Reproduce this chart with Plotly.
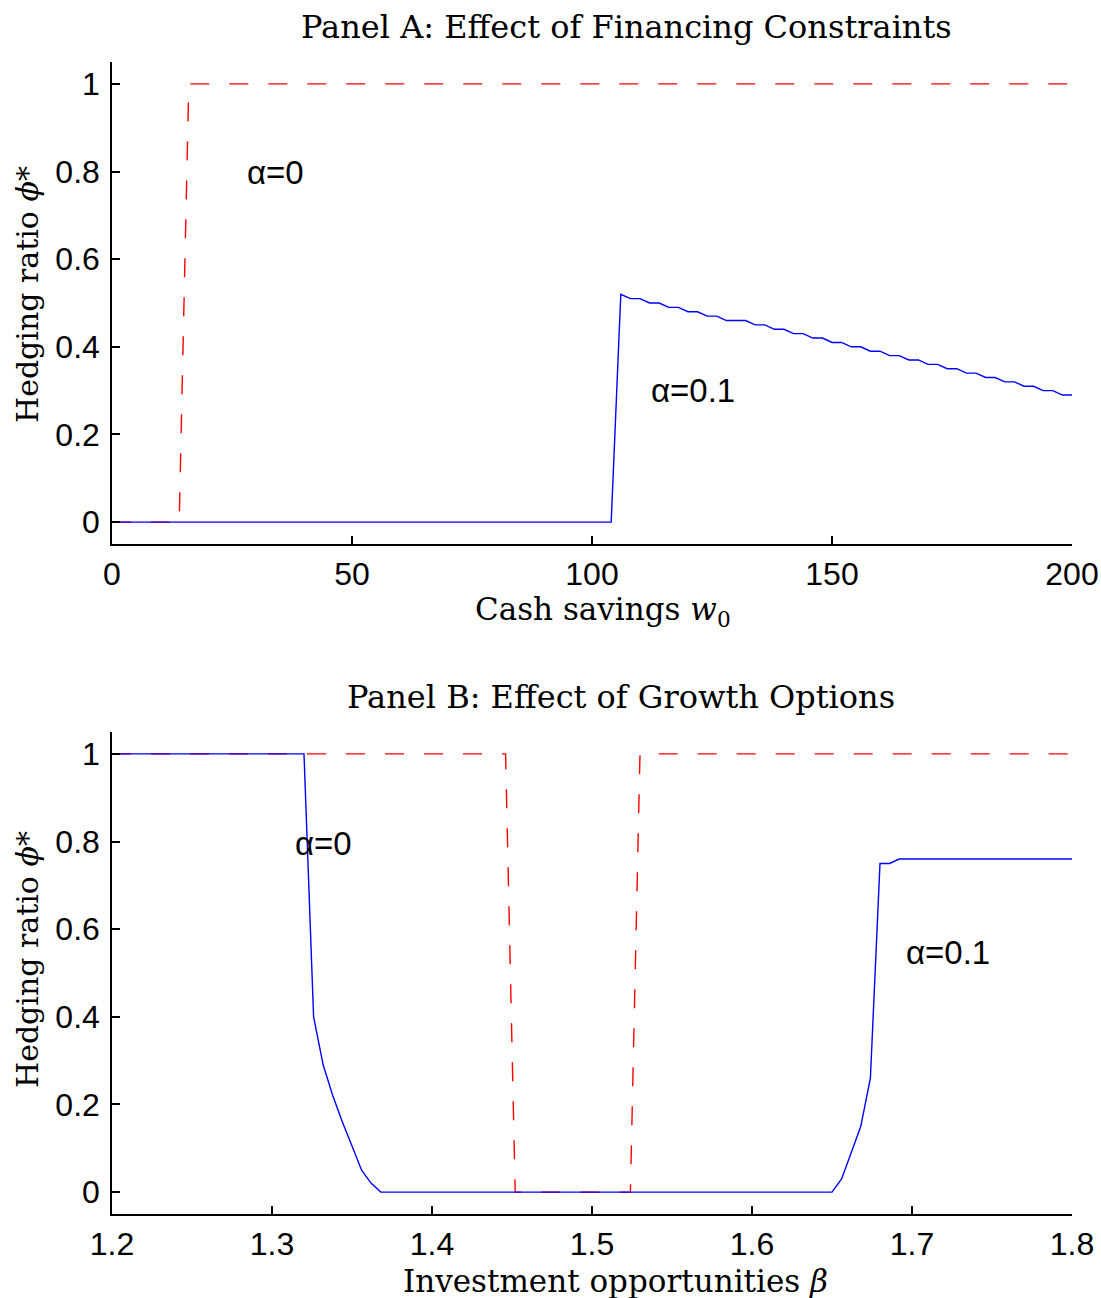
import plotly.graph_objects as go

# ---------------- Data ----------------
# Panel A: Effect of financing constraints (x = cash savings w0)
a_red_x = [0, 14, 16, 200]
a_red_y = [0, 0, 1, 1]

a_blue_x = [0, 104, 106, 108, 110, 112, 114, 116, 118, 120, 122, 124, 126, 128, 130, 132,
            134, 136, 138, 140, 142, 144, 146, 148, 150, 152, 154, 156, 158, 160, 162, 164,
            166, 168, 170, 172, 174, 176, 178, 180, 182, 184, 186, 188, 190, 192, 194, 196,
            198, 200]
a_blue_y = [0, 0, 0.52, 0.51, 0.51, 0.50, 0.50, 0.49, 0.49, 0.48, 0.48, 0.47, 0.47, 0.46, 0.46, 0.46,
            0.45, 0.45, 0.44, 0.44, 0.43, 0.43, 0.42, 0.42, 0.41, 0.41, 0.40, 0.40, 0.39, 0.39, 0.38, 0.38,
            0.37, 0.37, 0.36, 0.36, 0.35, 0.35, 0.34, 0.34, 0.33, 0.33, 0.32, 0.32, 0.31, 0.31, 0.30, 0.30,
            0.29, 0.29]

# Panel B: Effect of growth options (x = investment opportunities beta)
b_red_x = [1.2, 1.446, 1.452, 1.524, 1.530, 1.8]
b_red_y = [1, 1, 0, 0, 1, 1]

b_blue_x = [1.2, 1.32, 1.326, 1.332, 1.338, 1.344, 1.350, 1.356, 1.362, 1.368,
            1.65, 1.656, 1.662, 1.668, 1.674, 1.680, 1.686, 1.692, 1.8]
b_blue_y = [1, 1, 0.40, 0.29, 0.22, 0.16, 0.105, 0.05, 0.02, 0,
            0, 0.03, 0.09, 0.15, 0.26, 0.75, 0.75, 0.76, 0.76]

panel_titles = ["Panel A: Effect of Financing Constraints", "Panel B: Effect of Growth Options"]
x_titles = ["Cash savings <i>w</i><sub>0</sub>", "Investment opportunities <i>β</i>"]
y_title = "Hedging ratio <i>ϕ</i>*"
labels_a = [("α=0", 34, 0.797), ("α=0.1", 121, 0.30)]
labels_b = [("α=0", 1.332, 0.795), ("α=0.1", 1.7225, 0.547)]

# ---------------- Figure ----------------
W, H = 1101, 1298
RED = "#FF0000"
BLUE = "#0000FF"
DASH = "19px,20px"
LW = 1.4

fig = go.Figure()
fig.add_trace(go.Scatter(x=a_red_x, y=a_red_y, mode="lines", line=dict(color=RED, width=LW, dash=DASH),
                         xaxis="x", yaxis="y", showlegend=False))
fig.add_trace(go.Scatter(x=a_blue_x, y=a_blue_y, mode="lines", line=dict(color=BLUE, width=LW),
                         xaxis="x", yaxis="y", showlegend=False))
fig.add_trace(go.Scatter(x=b_red_x, y=b_red_y, mode="lines", line=dict(color=RED, width=LW, dash=DASH),
                         xaxis="x2", yaxis="y2", showlegend=False))
fig.add_trace(go.Scatter(x=b_blue_x, y=b_blue_y, mode="lines", line=dict(color=BLUE, width=LW),
                         xaxis="x2", yaxis="y2", showlegend=False))

def px_x(p):
    return p / W

def px_y(p):
    return 1 - p / H

tickfont = dict(family="Liberation Sans, Arial, sans-serif", size=32, color="black")
axis_common = dict(showline=True, linecolor="black", linewidth=1.5, ticks="inside", ticklen=8,
                   tickwidth=1.5, tickcolor="black", showgrid=False, zeroline=False, mirror=False,
                   tickfont=tickfont, fixedrange=True, automargin=False)

xdom = [px_x(112), px_x(1072)]
fig.update_layout(
    width=W, height=H,
    margin=dict(l=0, r=0, t=0, b=0, autoexpand=False),
    paper_bgcolor="white", plot_bgcolor="white",
    xaxis=dict(domain=xdom, range=[0, 200], tickvals=[0, 50, 100, 150, 200], anchor="y",
               ticklabelstandoff=1, **axis_common),
    yaxis=dict(domain=[px_y(544), px_y(62)], range=[-0.05, 1.05], tickvals=[0, 0.2, 0.4, 0.6, 0.8, 1],
               anchor="x", ticklabelstandoff=4, **axis_common),
    xaxis2=dict(domain=xdom, range=[1.2, 1.8], tickvals=[1.2, 1.3, 1.4, 1.5, 1.6, 1.7, 1.8],
                ticktext=["1.2", "1.3", "1.4", "1.5", "1.6", "1.7", "1.8"], anchor="y2",
                ticklabelstandoff=1, **axis_common),
    yaxis2=dict(domain=[px_y(1214), px_y(732)], range=[-0.05, 1.05], tickvals=[0, 0.2, 0.4, 0.6, 0.8, 1],
                anchor="x2", ticklabelstandoff=4, **axis_common),
)

serif_title = dict(family="DejaVu Serif, Liberation Serif, serif", size=32, color="black")
serif_x = dict(family="DejaVu Serif, Liberation Serif, serif", size=31, color="black")
serif_y = dict(family="DejaVu Serif, Liberation Serif, serif", size=30, color="black")
ann = []
# panel titles
ann.append(dict(text=panel_titles[0], x=px_x(626), y=px_y(27), xref="paper", yref="paper",
                showarrow=False, font=serif_title, xanchor="center", yanchor="middle"))
ann.append(dict(text=panel_titles[1], x=px_x(621), y=px_y(697), xref="paper", yref="paper",
                showarrow=False, font=serif_title, xanchor="center", yanchor="middle"))
# x titles
ann.append(dict(text=x_titles[0], x=px_x(603), y=px_y(611), xref="paper", yref="paper",
                showarrow=False, font=serif_x, xanchor="center", yanchor="middle"))
ann.append(dict(text=x_titles[1], x=px_x(615), y=px_y(1281), xref="paper", yref="paper",
                showarrow=False, font=serif_x, xanchor="center", yanchor="middle"))
# y titles
ann.append(dict(text=y_title, x=px_x(27), y=px_y(295), xref="paper", yref="paper", textangle=-90,
                showarrow=False, font=serif_y, xanchor="center", yanchor="middle"))
ann.append(dict(text=y_title, x=px_x(27), y=px_y(960), xref="paper", yref="paper", textangle=-90,
                showarrow=False, font=serif_y, xanchor="center", yanchor="middle"))
# curve labels
labfont = dict(family="Liberation Sans, Arial, sans-serif", size=33, color="black")
for t, x, y in labels_a:
    ann.append(dict(text=t, x=x, y=y, xref="x", yref="y", showarrow=False, font=labfont,
                    xanchor="center", yanchor="middle"))
for t, x, y in labels_b:
    ann.append(dict(text=t, x=x, y=y, xref="x2", yref="y2", showarrow=False, font=labfont,
                    xanchor="center", yanchor="middle"))
fig.update_layout(annotations=ann)

fig.write_html("out.html", config={"displayModeBar": False},
               post_script="document.body.style.margin='0';document.body.style.overflow='hidden';")
